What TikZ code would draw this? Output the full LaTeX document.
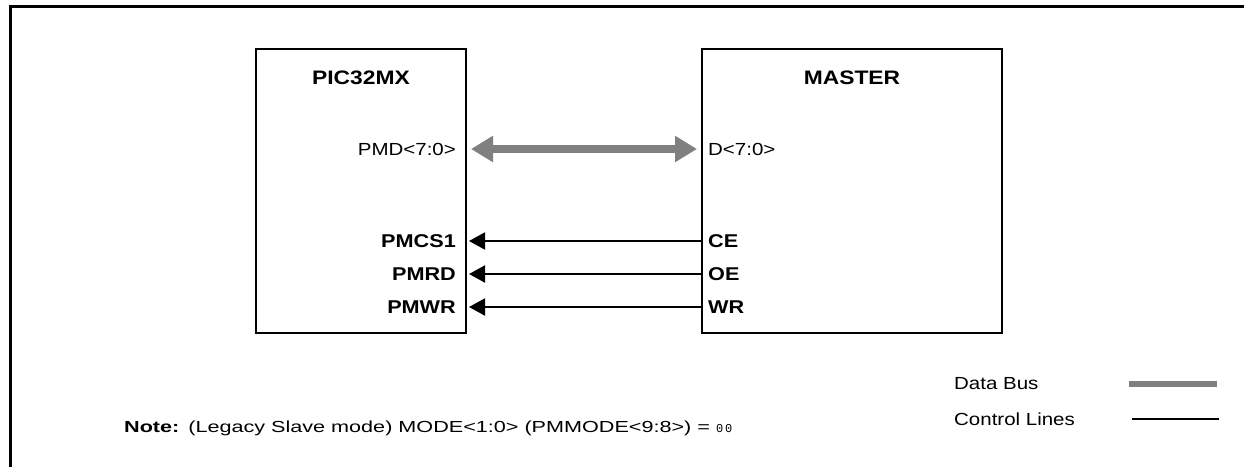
\documentclass[tikz,border=0pt]{standalone}
\usepackage{fontspec}
\setmainfont{Liberation Sans}[FakeStretch=1.17]
\newfontfamily\notefont{Liberation Sans}[FakeStretch=1.35]
\newfontfamily\digitfont{Liberation Mono}
\usetikzlibrary{arrows.meta,positioning}
\definecolor{BusGray}{HTML}{808080}

\begin{document}
\begin{tikzpicture}[
  x=1pt,y=-1pt,
  chip/.style={draw,line width=2pt,minimum height=284pt,inner sep=0pt},
  title/.style={font=\fontsize{19.5}{22}\selectfont\bfseries,inner sep=0pt},
  sig/.style={font=\fontsize{17.5}{20}\selectfont,inner sep=0pt},
  ctlsig/.style={font=\fontsize{18.5}{21}\selectfont\bfseries,inner sep=0pt},
  ctl/.style={-{Triangle[length=16pt,width=17pt]},line width=2pt},
  bus/.style={{Triangle[length=22pt,width=25pt]}-{Triangle[length=22pt,width=25pt]},line width=8pt,draw=BusGray}
]
\useasboundingbox (0,0) rectangle (1244,467);
\draw[line width=3pt] (10,467) -- (10,6) -- (1244,6);
\node[chip,minimum width=210pt] (pic) at (361,191) {};
\node[chip,minimum width=300pt] (master) at (852,191) {};
\node[title,below=23pt of pic.north] (picname) {PIC32MX};
\node[title,below=23pt of master.north] (mastername) {MASTER};
\node[sig,anchor=east] (pmd) at (456,149) {PMD<7:0>};
\node[ctlsig,anchor=east] (pmcs) at (456,241) {PMCS1};
\node[ctlsig,anchor=east] (pmrd) at (456,274) {PMRD};
\node[ctlsig,anchor=east] (pmwr) at (456,307) {PMWR};
\node[sig,anchor=west] (dbus) at (708,149) {D<7:0>};
\node[ctlsig,anchor=west] (ce) at (708,241) {CE};
\node[ctlsig,anchor=west] (oe) at (708,274) {OE};
\node[ctlsig,anchor=west] (wr) at (708,307) {WR};
\draw[bus] ([xshift=4pt]pic.east |- pmd) -- ([xshift=-4pt]master.west |- pmd);
\draw[ctl] (master.west |- ce) -- ([xshift=2pt]pic.east |- pmcs);
\draw[ctl] (master.west |- oe) -- ([xshift=2pt]pic.east |- pmrd);
\draw[ctl] (master.west |- wr) -- ([xshift=2pt]pic.east |- pmwr);
\node[sig,anchor=west] (lgbus) at (954,384) {Data Bus};
\node[sig,anchor=west] (lgctl) at (954,419) {Control Lines};
\coordinate (busL) at (1129,384);
\coordinate (ctlL) at (1132,419);
\draw[line width=6pt,BusGray] (busL) -- ++(88,0);
\draw[line width=2pt] (ctlL) -- ++(87,0);
\node[anchor=west,inner sep=0pt,font=\notefont\fontsize{16}{18}\selectfont] (note) at (124,428)
  {\textbf{Note:}\hspace{9pt}(Legacy Slave mode) MODE<1:0> (PMMODE<9:8>) = {\digitfont\fontsize{12}{14}\selectfont 0\,0}};
\end{tikzpicture}
\end{document}
